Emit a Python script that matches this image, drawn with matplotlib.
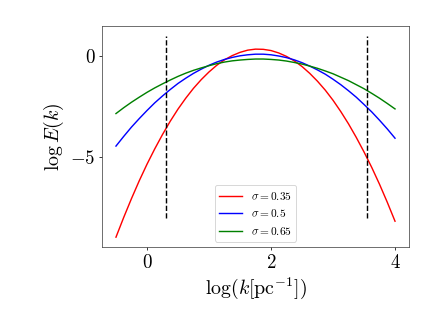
import numpy as np
import matplotlib
matplotlib.use("Agg")
import matplotlib.pyplot as plt

plt.rcParams['font.family'] = 'serif'
plt.rcParams['font.serif'] = ['cmr10']
plt.rcParams['mathtext.fontset'] = 'cm'
plt.rcParams['axes.formatter.use_mathtext'] = True

# values
log_k = [-0.5, -0.375, -0.25, -0.125, 0.0, 0.125, 0.25, 0.375, 0.5, 0.625,
         0.75, 0.875, 1.0, 1.125, 1.25, 1.375, 1.5, 1.625, 1.75, 1.875,
         2.0, 2.125, 2.25, 2.375, 2.5, 2.625, 2.75, 2.875, 3.0, 3.125,
         3.25, 3.375, 3.5, 3.625, 3.75, 3.875, 4.0]
E_035 = [-8.95, -7.97, -7.04, -6.16, -5.34, -4.58, -3.87, -3.21, -2.61, -2.07,
         -1.58, -1.15, -0.77, -0.44, -0.17, 0.04, 0.20, 0.31, 0.36, 0.35,
         0.29, 0.17, 0.00, -0.22, -0.50, -0.84, -1.23, -1.67, -2.17, -2.73,
         -3.34, -4.01, -4.73, -5.50, -6.33, -7.22, -8.16]
E_050 = [-4.44, -3.96, -3.50, -3.08, -2.68, -2.30, -1.96, -1.64, -1.34, -1.08,
         -0.84, -0.63, -0.44, -0.28, -0.15, -0.05, 0.03, 0.08, 0.11, 0.11,
         0.08, 0.02, -0.06, -0.17, -0.31, -0.48, -0.67, -0.88, -1.13, -1.40,
         -1.70, -2.02, -2.38, -2.75, -3.16, -3.59, -4.05]
E_065 = [-2.83, -2.54, -2.27, -2.02, -1.78, -1.56, -1.36, -1.17, -0.99, -0.83,
         -0.69, -0.57, -0.46, -0.36, -0.28, -0.22, -0.18, -0.15, -0.13, -0.13,
         -0.15, -0.18, -0.23, -0.30, -0.38, -0.48, -0.59, -0.72, -0.86, -1.03,
         -1.20, -1.40, -1.60, -1.83, -2.07, -2.33, -2.60]
sigmas = ['0.35', '0.5', '0.65']
colors = ['red', 'blue', 'green']
k_limits = [0.3, 3.55]
vline_range = (-8, 1)

fig = plt.figure(figsize=(6.4, 4.8), dpi=68.125)
ax = fig.add_axes([0.234, 0.244, 0.704, 0.676])

for E, s, c in zip([E_035, E_050, E_065], sigmas, colors):
    ax.plot(log_k, E, color=c, lw=1.5, label=r'$\sigma = %s$' % s)

for xk in k_limits:
    ax.vlines(xk, vline_range[0], vline_range[1], colors='black', linestyles='--', lw=1.5)

ax.set_xticks([0, 2, 4])
ax.set_yticks([0, -5])
ax.tick_params(labelsize=20)
ax.set_xlabel(r'$\log(k[\mathrm{pc}^{-1}])$', fontsize=21)
ax.set_ylabel(r'$\log E(k)$', fontsize=21)
for sp in ax.spines.values():
    sp.set_color('#444444')
ax.legend(loc='lower center', fontsize=12)

fig.savefig('out.png', dpi=68.125)
